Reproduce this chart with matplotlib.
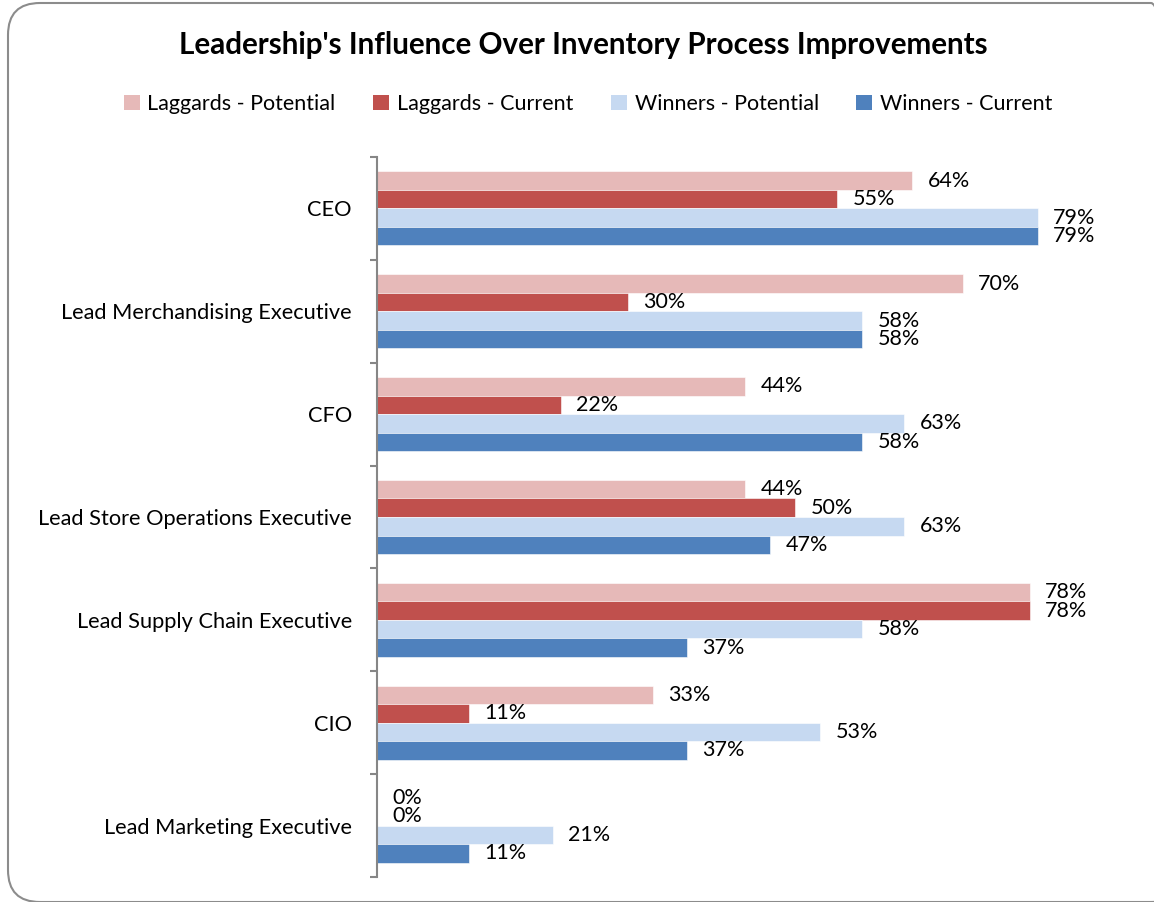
import numpy as np
import matplotlib.pyplot as plt
from matplotlib.patches import FancyBboxPatch, Patch
from matplotlib.transforms import IdentityTransform

plt.rcParams['font.family'] = ['Lato', 'DejaVu Sans']

# data
roles = ['CEO', 'Lead Merchandising Executive', 'CFO',
         'Lead Store Operations Executive', 'Lead Supply Chain Executive',
         'CIO', 'Lead Marketing Executive']
series = ['Laggards - Potential', 'Laggards - Current',
          'Winners - Potential', 'Winners - Current']
laggards_potential = [64, 70, 44, 44, 78, 33, 0]
laggards_current = [55, 30, 22, 50, 78, 11, 0]
winners_potential = [79, 58, 63, 63, 58, 53, 21]
winners_current = [79, 58, 58, 47, 37, 37, 11]
colors = ['#E6B9B8', '#C0504D', '#C6D9F1', '#4F81BD']

values = [laggards_potential, laggards_current, winners_potential, winners_current]

fig = plt.figure(figsize=(11.54, 9.02), dpi=100)
ax = fig.add_axes([377/1154, 1 - 877/902, (1130 - 377)/1154, (877 - 157)/902])

y = np.arange(len(roles))
h = 0.18
for i, (vals, name, c) in enumerate(zip(values, series, colors)):
    bars = ax.barh(y + (i - 1.5) * h, vals, height=h, color=c, label=name,
                   edgecolor='white', linewidth=0.4)
    ax.bar_label(bars, labels=[f'{v}%' for v in vals], padding=11, fontsize=15.5)

ax.set_xlim(0, 90)
ax.set_ylim(len(roles) - 0.5, -0.5)
ax.set_yticks(y)
ax.set_yticklabels(roles, fontsize=15.7)
ax.set_yticks(np.arange(-0.5, len(roles)), minor=True)
ax.tick_params(axis='y', which='major', length=0, pad=18)
ax.tick_params(axis='y', which='minor', length=5, color='#868686', width=1.5)
ax.set_xticks([])
for s in ['top', 'right', 'bottom']:
    ax.spines[s].set_visible(False)
ax.spines['left'].set_color('#868686')
ax.spines['left'].set_linewidth(1.5)

fig.text(583/1154, 1 - 45/902, "Leadership's Influence Over Inventory Process Improvements",
         ha='center', va='center', fontsize=21.3, fontweight='bold')

handles = [Patch(facecolor=c, label=s) for s, c in zip(series, colors)]
fig.legend(handles=handles, loc='center', bbox_to_anchor=(588/1154, 1 - 104/902), ncol=4,
           frameon=False, fontsize=15.5, handlelength=0.75, handleheight=0.75,
           handletextpad=0.35, columnspacing=1.75)

# rounded chart border (pixel coordinates), right side runs off the image
border = FancyBboxPatch((8, 0), 1175, 899,
                        boxstyle='round,pad=0,rounding_size=32',
                        transform=IdentityTransform(), facecolor='none',
                        edgecolor='#8C8C8C', linewidth=1.5)
fig.patches.append(border)

fig.savefig('out.png', dpi=100)
